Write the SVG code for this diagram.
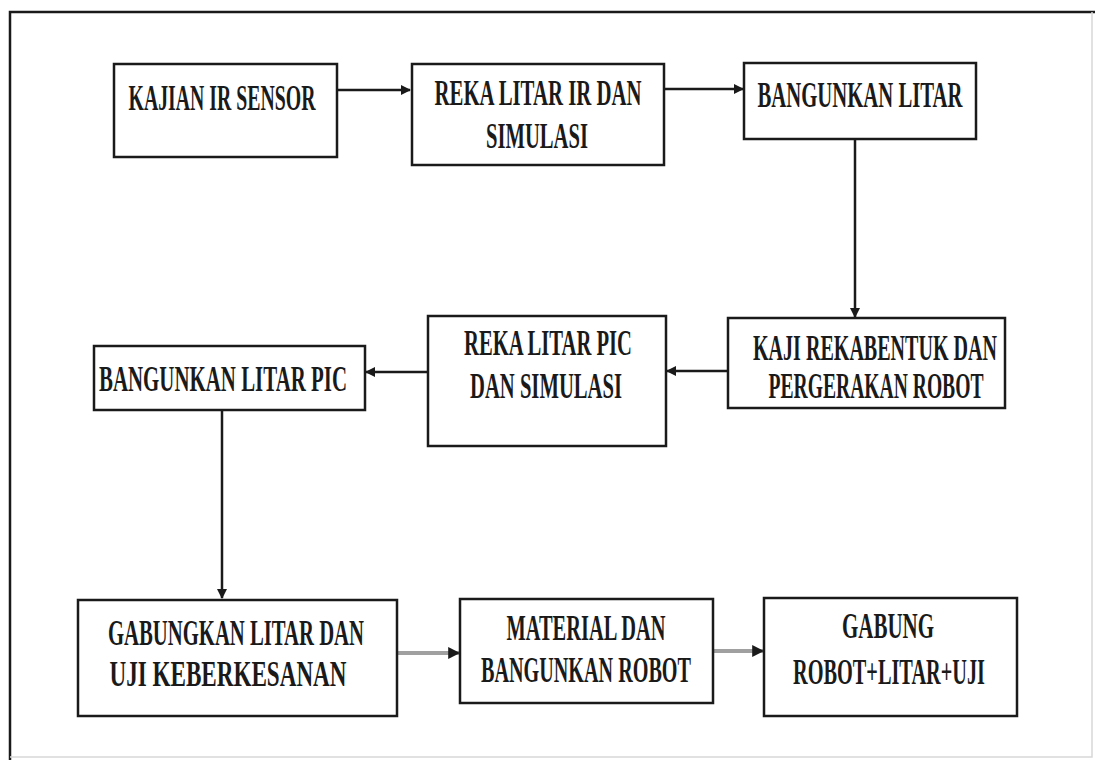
<svg xmlns="http://www.w3.org/2000/svg" width="1095" height="767" viewBox="0 0 1095 767">
<defs>
<style>
.box{fill:#fff;stroke:#1a1a1a;stroke-width:2.5}
.t{font-family:"Liberation Serif","DejaVu Serif",serif;font-size:21px;fill:#1a1a1a;text-anchor:middle;font-weight:bold}
.c{fill:none;stroke:#1a1a1a;stroke-width:2.5}
.g{fill:none;stroke:#a0a0a0;stroke-width:4}
</style>
<marker id="ah" viewBox="0 0 10 10" refX="9" refY="5" markerWidth="4" markerHeight="4" orient="auto" markerUnits="strokeWidth">
<path d="M0,0 L10,5 L0,10 z" fill="#1a1a1a"/>
</marker>
<marker id="ahg" viewBox="0 0 10 10" refX="9" refY="5" markerWidth="3" markerHeight="3.5" orient="auto" markerUnits="strokeWidth">
<path d="M0,0 L10,5 L0,10 z" fill="#1a1a1a"/>
</marker>
</defs>
<rect width="1095" height="767" fill="#fff"/>
<g id="frame">
<path d="M10,760 L10,12 L1095,12" fill="none" stroke="#1a1a1a" stroke-width="2.5"/>
<path d="M10,757 L1092,757 L1092,12" fill="none" stroke="#d8d8d8" stroke-width="1.5"/>
</g>
<g id="connectors">
<line class="c" x1="337" y1="90" x2="410" y2="90" marker-end="url(#ah)"/>
<line class="c" x1="664" y1="89" x2="743" y2="89" marker-end="url(#ah)"/>
<line class="c" x1="855" y1="139" x2="855" y2="317" marker-end="url(#ah)"/>
<line class="c" x1="728" y1="371" x2="667" y2="371" marker-end="url(#ah)"/>
<line class="c" x1="428" y1="372" x2="366" y2="372" marker-end="url(#ah)"/>
<line class="c" x1="222" y1="410" x2="222" y2="598" marker-end="url(#ah)"/>
<line class="g" x1="397" y1="653" x2="459" y2="653" marker-end="url(#ahg)"/>
<line class="g" x1="713" y1="651" x2="763" y2="651" marker-end="url(#ahg)"/>
</g>
<g id="n1">
<rect class="box" x="114" y="64" width="223" height="93"/>
<text class="t" transform="translate(222,110) scale(1,1.75)" textLength="187" lengthAdjust="spacingAndGlyphs">KAJIAN IR SENSOR</text>
</g>
<g id="n2">
<rect class="box" x="412" y="64" width="252" height="101"/>
<text class="t" transform="translate(538,105) scale(1,1.75)" textLength="207" lengthAdjust="spacingAndGlyphs">REKA LITAR IR DAN</text>
<text class="t" transform="translate(537,148) scale(1,1.75)" textLength="102" lengthAdjust="spacingAndGlyphs">SIMULASI</text>
</g>
<g id="n3">
<rect class="box" x="744" y="63" width="232" height="76"/>
<text class="t" transform="translate(860,107) scale(1,1.75)" textLength="205" lengthAdjust="spacingAndGlyphs">BANGUNKAN LITAR</text>
</g>
<g id="n4">
<rect class="box" x="728" y="318" width="277" height="90"/>
<text class="t" transform="translate(875,360) scale(1,1.75)" textLength="244" lengthAdjust="spacingAndGlyphs">KAJI REKABENTUK DAN</text>
<text class="t" transform="translate(876,398) scale(1,1.75)" textLength="215" lengthAdjust="spacingAndGlyphs">PERGERAKAN ROBOT</text>
</g>
<g id="n5">
<rect class="box" x="428" y="316" width="238" height="130"/>
<text class="t" transform="translate(548,355) scale(1,1.75)" textLength="168" lengthAdjust="spacingAndGlyphs">REKA LITAR PIC</text>
<text class="t" transform="translate(546,398) scale(1,1.75)" textLength="152" lengthAdjust="spacingAndGlyphs">DAN SIMULASI</text>
</g>
<g id="n6">
<rect class="box" x="94" y="346" width="271" height="64"/>
<text class="t" transform="translate(223,391) scale(1,1.75)" textLength="248" lengthAdjust="spacingAndGlyphs">BANGUNKAN LITAR PIC</text>
</g>
<g id="n7">
<rect class="box" x="78" y="600" width="319" height="116"/>
<text class="t" transform="translate(236,645) scale(1,1.75)" textLength="256" lengthAdjust="spacingAndGlyphs">GABUNGKAN LITAR DAN</text>
<text class="t" transform="translate(228,686) scale(1,1.75)" textLength="237" lengthAdjust="spacingAndGlyphs">UJI KEBERKESANAN</text>
</g>
<g id="n8">
<rect class="box" x="460" y="599" width="253" height="104"/>
<text class="t" transform="translate(586,640) scale(1,1.75)" textLength="159" lengthAdjust="spacingAndGlyphs">MATERIAL DAN</text>
<text class="t" transform="translate(586,682) scale(1,1.75)" textLength="210" lengthAdjust="spacingAndGlyphs">BANGUNKAN ROBOT</text>
</g>
<g id="n9">
<rect class="box" x="764" y="598" width="253" height="118"/>
<text class="t" transform="translate(888,638) scale(1,1.75)" textLength="92" lengthAdjust="spacingAndGlyphs">GABUNG</text>
<text class="t" transform="translate(889,684) scale(1,1.75)" textLength="192" lengthAdjust="spacingAndGlyphs">ROBOT+LITAR+UJI</text>
</g>
</svg>
